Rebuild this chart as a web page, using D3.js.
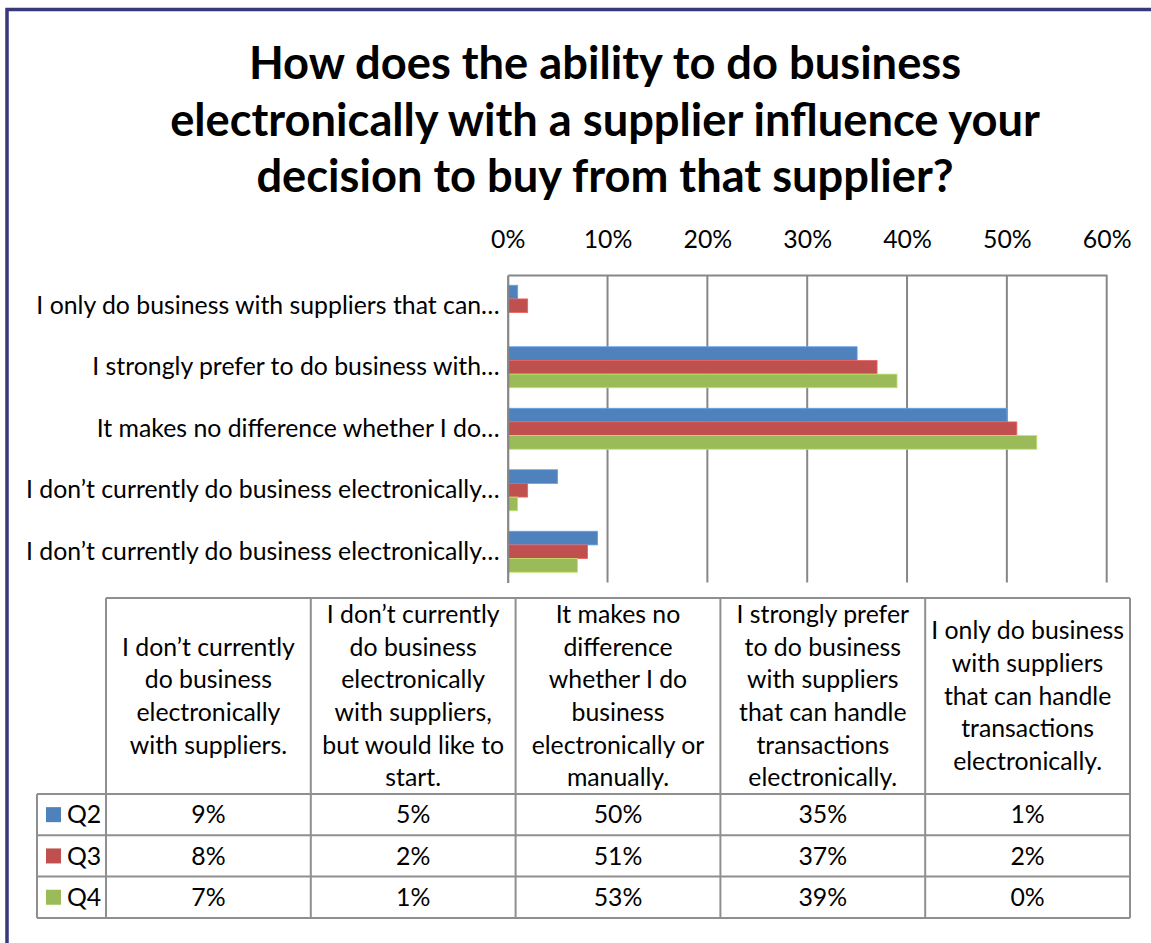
<!DOCTYPE html>
<html>
<head>
<meta charset="utf-8">
<script src="https://cdn.jsdelivr.net/npm/d3@7"></script>
<style>
  html, body { margin: 0; padding: 0; background: #ffffff; }
  svg { display: block; }
</style>
</head>
<body>
<svg id="chart" width="1151" height="943"></svg>
<script>
// Survey answers, in the order they appear as table columns
const categories = [
  "I don’t currently do business electronically with suppliers.",
  "I don’t currently do business electronically with suppliers, but would like to start.",
  "It makes no difference whether I do business electronically or manually.",
  "I strongly prefer to do business with suppliers that can handle transactions electronically.",
  "I only do business with suppliers that can handle transactions electronically."
];

// Shortened answer text shown beside the bars
const axisLabels = [
  "I don’t currently do business electronically…",
  "I don’t currently do business electronically…",
  "It makes no difference whether I do…",
  "I strongly prefer to do business with…",
  "I only do business with suppliers that can…"
];

// Wrapped answer text for the table header cells
const headerLines = [
  ["I don’t currently", "do business", "electronically", "with suppliers."],
  ["I don’t currently", "do business", "electronically", "with suppliers,", "but would like to", "start."],
  ["It makes no", "difference", "whether I do", "business", "electronically or", "manually."],
  ["I strongly prefer", "to do business", "with suppliers", "that can handle", "transactions", "electronically."],
  ["I only do business", "with suppliers", "that can handle", "transactions", "electronically."]
];

const seriesNames = ["Q2", "Q3", "Q4"];
const q2Values = [9, 5, 50, 35, 1];
const q3Values = [8, 2, 51, 37, 2];
const q4Values = [7, 1, 53, 39, 0];
const seriesColors = ["#4F81BD", "#C0504D", "#9BBB59"];

const percentTicks = [0, 10, 20, 30, 40, 50, 60];

const titleLines = [
  "How does the ability to do business",
  "electronically with a supplier influence your",
  "decision to buy from that supplier?"
];

const seriesValues = [q2Values, q3Values, q4Values];
const FONT = "Lato, 'Open Sans', 'Liberation Sans', sans-serif";

const svg = d3.select("#chart");

// Pick a font size so that a given string spans a given width
function fitSize(text, weight, target) {
  const t = svg.append("text")
    .attr("font-family", FONT)
    .attr("font-weight", weight)
    .attr("font-size", 100)
    .text(text);
  const w = t.node().getComputedTextLength();
  t.remove();
  return 100 * target / w;
}

const labelSize = fitSize(axisLabels[0], 400, 474);
const titleSize = fitSize(titleLines[1], 700, 870);

// Frame
svg.append("path")
  .attr("d", "M7,943 V9.5 H1151")
  .attr("fill", "none")
  .attr("stroke", "#37377a")
  .attr("stroke-width", 3.5);

// Title
svg.append("g")
  .selectAll("text")
  .data(titleLines)
  .join("text")
  .attr("x", 605)
  .attr("y", (d, i) => 79 + i * 56.5)
  .attr("text-anchor", "middle")
  .attr("font-family", FONT)
  .attr("font-weight", 700)
  .attr("font-size", titleSize)
  .attr("fill", "#000")
  .text(d => d);

// Scales
const plot = { left: 507.7, right: 1106.7, top: 275, bottom: 582.5 };

const x = d3.scaleLinear()
  .domain([0, 60])
  .range([plot.left, plot.right]);

// Categories are stacked in reverse, the first one at the bottom
const y = d3.scaleBand()
  .domain(categories.slice().reverse())
  .range([plot.top, plot.bottom])
  .paddingInner(1 / 3)
  .paddingOuter(1 / 6);

const ySeries = d3.scaleBand()
  .domain(seriesNames)
  .range([0, y.bandwidth()]);

// Vertical gridlines
svg.append("g")
  .selectAll("line")
  .data(percentTicks.slice(1))
  .join("line")
  .attr("x1", d => x(d))
  .attr("x2", d => x(d))
  .attr("y1", plot.top)
  .attr("y2", plot.bottom)
  .attr("stroke", "#878787")
  .attr("stroke-width", 2);

// Bars
const barData = [];
categories.forEach((c, ci) => {
  seriesNames.forEach((s, si) => {
    barData.push({ category: c, series: s, value: seriesValues[si][ci], color: seriesColors[si] });
  });
});

svg.append("g")
  .selectAll("rect")
  .data(barData)
  .join("rect")
  .attr("x", x(0))
  .attr("y", d => y(d.category) + ySeries(d.series))
  .attr("width", d => x(d.value) - x(0))
  .attr("height", ySeries.bandwidth())
  .attr("fill", d => d.color)
  .attr("stroke", d => d3.color(d.color).brighter(0.6))
  .attr("stroke-width", d => d.value > 0 ? 0.8 : 0);

// Value axis along the top
const xAxis = svg.append("g")
  .attr("transform", `translate(0,${plot.top})`)
  .call(d3.axisTop(x).tickValues(percentTicks).tickFormat(d => d + "%").tickSize(0).tickPadding(27));
xAxis.select(".domain").attr("stroke", "#878787").attr("stroke-width", 2);
xAxis.selectAll("text")
  .attr("font-family", FONT)
  .attr("font-size", labelSize)
  .attr("fill", "#000");

// Category axis on the left
const labelByCategory = new Map(categories.map((c, i) => [c, axisLabels[i]]));
const yAxis = svg.append("g")
  .attr("transform", `translate(${plot.left},0)`)
  .call(d3.axisLeft(y).tickFormat(d => labelByCategory.get(d)).tickSize(0).tickSizeOuter(0).tickPadding(8));
yAxis.select(".domain").attr("stroke", "#878787").attr("stroke-width", 2.2);
yAxis.selectAll("text")
  .attr("font-family", FONT)
  .attr("font-size", labelSize)
  .attr("fill", "#000");

// Data table under the chart
const table = { left: 37, colLeft: 106, right: 1130, top: 598, headerBottom: 794, rowH: 41.3 };
const colW = (table.right - table.colLeft) / categories.length;
const tableBottom = table.headerBottom + table.rowH * seriesNames.length;
const gridColor = "#8f8f8f";
const tg = svg.append("g");

// Horizontal rules
tg.append("line")
  .attr("x1", table.colLeft).attr("x2", table.right)
  .attr("y1", table.top).attr("y2", table.top)
  .attr("stroke", gridColor).attr("stroke-width", 2);
tg.selectAll("line.row")
  .data(d3.range(seriesNames.length + 1))
  .join("line")
  .attr("class", "row")
  .attr("x1", table.left).attr("x2", table.right)
  .attr("y1", i => table.headerBottom + i * table.rowH)
  .attr("y2", i => table.headerBottom + i * table.rowH)
  .attr("stroke", gridColor).attr("stroke-width", 2);

// Vertical rules
tg.append("line")
  .attr("x1", table.left).attr("x2", table.left)
  .attr("y1", table.headerBottom).attr("y2", tableBottom)
  .attr("stroke", gridColor).attr("stroke-width", 2);
tg.selectAll("line.col")
  .data(d3.range(categories.length + 1))
  .join("line")
  .attr("class", "col")
  .attr("x1", i => table.colLeft + i * colW).attr("x2", i => table.colLeft + i * colW)
  .attr("y1", table.top).attr("y2", tableBottom)
  .attr("stroke", gridColor).attr("stroke-width", 2);

// Header cells
const headerMid = (table.top + table.headerBottom) / 2;
const lineStep = 32.6;
headerLines.forEach((lines, ci) => {
  tg.append("g")
    .selectAll("text")
    .data(lines)
    .join("text")
    .attr("x", table.colLeft + (ci + 0.5) * colW)
    .attr("y", (d, i) => headerMid + (i - (lines.length - 1) / 2) * lineStep)
    .attr("dy", "0.35em")
    .attr("text-anchor", "middle")
    .attr("font-family", FONT)
    .attr("font-size", labelSize)
    .attr("fill", "#000")
    .text(d => d);
});

// Legend keys and values
seriesNames.forEach((s, si) => {
  const mid = table.headerBottom + (si + 0.5) * table.rowH;
  tg.append("rect")
    .attr("x", 46).attr("y", mid - 7.5)
    .attr("width", 15).attr("height", 15)
    .attr("fill", seriesColors[si]);
  tg.append("text")
    .attr("x", 67).attr("y", mid).attr("dy", "0.35em")
    .attr("font-family", FONT).attr("font-size", labelSize)
    .attr("fill", "#000")
    .text(s);
  tg.append("g")
    .selectAll("text")
    .data(seriesValues[si])
    .join("text")
    .attr("x", (d, ci) => table.colLeft + (ci + 0.5) * colW)
    .attr("y", mid).attr("dy", "0.35em")
    .attr("text-anchor", "middle")
    .attr("font-family", FONT).attr("font-size", labelSize)
    .attr("fill", "#000")
    .text(d => d + "%");
});
</script>
</body>
</html>
